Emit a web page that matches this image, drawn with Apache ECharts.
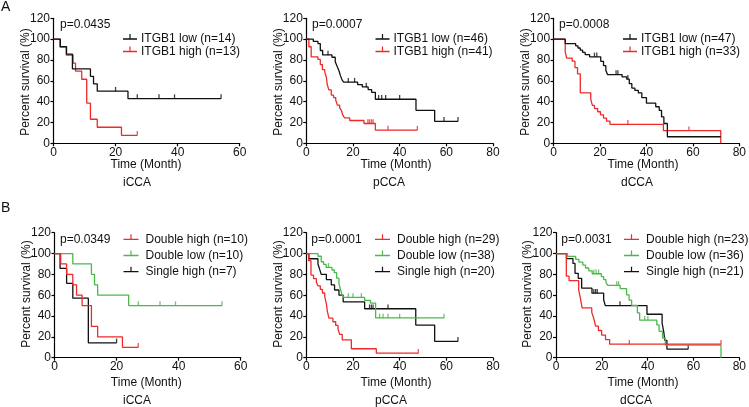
<!DOCTYPE html>
<html><head><meta charset="utf-8">
<script src="https://cdn.jsdelivr.net/npm/echarts@6/dist/echarts.min.js"></script>
<style>html,body{margin:0;padding:0;background:#fff}#c{width:749px;height:407px}</style>
</head><body><div id="c"></div>
<script>
// ================= DATA =================
const pValues = ['p=0.0435', 'p=0.0007', 'p=0.0008', 'p=0.0349', 'p=0.0001', 'p=0.0031'];
const cohorts = ['iCCA', 'pCCA', 'dCCA', 'iCCA', 'pCCA', 'dCCA'];
const xMax = [60, 80, 80, 60, 80, 80];
const yMax = 120;
const xTitle = 'Time (Month)';
const yTitle = 'Percent survival (%)';

// Panel A — iCCA
const iccaLow = [[0,100],[2.2,92.9],[4.2,85.7],[6.1,71.4],[11.9,64.3],[12.9,57.1],[14.1,50],[24,42.9],[54,42.9]];
const iccaLowCens = [[20,50],[27,42.9],[34,42.9],[39,42.9],[54,42.9]];
const iccaHigh = [[0,100],[2.1,92.3],[4.1,84.6],[6.3,76.9],[7.1,69.2],[9.1,61.5],[10.7,38.5],[11.9,23.1],[14.1,15.4],[21.9,7.7],[27,7.7]];
const iccaHighCens = [[27,7.7]];
// Panel A — pCCA
const pccaLow = [[0,100],[3,97.8],[5,95.7],[6,89.1],[7,84.8],[11,82.6],[12.4,78.3],[13.2,73.9],[14,69.6],[14.6,65.2],[15.3,60.9],[16,58.7],[22,56.4],[24,54.1],[26.5,51.6],[28,48.9],[29.6,42.3],[47,31.7],[55,21.1],[65,21.1]];
const pccaLowCens = [[9.3,84.8],[18,58.7],[20.7,58.7],[25.7,54.1],[31,42.3],[32.3,42.3],[34,42.3],[40,42.3],[59,21.1],[65,21.1]];
const pccaHigh = [[0,100],[1.1,92.7],[2.1,82.9],[5,80.5],[6,75.6],[6.9,70.7],[7.9,68.3],[8.6,63.4],[9,56.1],[9.7,51.2],[10.7,46.3],[11.7,43.9],[12.6,41.5],[13.3,36.6],[14.3,34.1],[15,31.7],[15.7,26.8],[16.4,24.4],[18.6,21.9],[24.7,19],[29.6,12.7],[47.6,12.7]];
const pccaHighCens = [[26.4,19],[27.1,19],[27.9,19],[28.6,19],[35,12.7],[47.6,12.7]];
// Panel A — dCCA
const dccaLow = [[0,100],[5,95.7],[9.5,93.6],[10.5,91.5],[11.5,89.4],[12.5,87.2],[13.6,85.1],[15.5,83],[20.3,78.7],[21.5,74.5],[22.5,70.2],[23.2,66],[29.5,63.8],[31.5,61.6],[32.6,57.2],[33.7,53],[35,50.8],[36.5,48.4],[38,43.8],[40,38.5],[44,35.1],[45.5,31.6],[46.5,25.3],[47.5,19],[49,6.3],[72,6.3]];
const dccaLowCens = [[17.6,83],[18.6,83],[26.9,66],[27.7,66],[32,61.6]];
const dccaHigh = [[0,100],[5,87.9],[5.6,81.8],[8,78.8],[9.2,72.7],[10.3,66.7],[11.5,48.5],[16,42.4],[16.7,36.4],[17.6,33.3],[19,30.3],[20.2,27.3],[21.5,24.2],[22.8,21.2],[24.3,18.2],[47.3,12.1],[72,0]];
const dccaHighCens = [[32,18.2],[58.3,12.1]];

// Panel B — iCCA
const iccaDH = [[0,100],[2,90],[3.9,80],[5.9,70],[7.1,60],[8.9,50],[11.9,30],[13.9,20],[21.9,10],[27,10]];
const iccaDHCens = [[27,10]];
const iccaDL = [[0,100],[5.9,90],[11.9,80],[12.9,70],[13.9,60],[23.9,50],[54,50]];
const iccaDLCens = [[27,50],[34,50],[39,50],[54,50]];
const iccaSH = [[0,100],[1.8,85.7],[3.9,71.4],[5.9,57.1],[10.9,14.3],[20,14.3]];
const iccaSHCens = [[20,14.3]];
// Panel B — pCCA
const pccaDH = [[0,100],[1,93.1],[2,79.3],[3.1,75.9],[4.3,72.4],[5,69],[6,65.5],[6.9,62.1],[7.9,58.6],[8.6,51.7],[9,44.8],[9.7,37.9],[11.4,34.5],[12.6,31],[13.6,27.6],[14.3,22.4],[15.4,17.2],[19.3,8.6],[30,4.3],[48,4.3]];
const pccaDHCens = [[48,4.3]];
const pccaDL = [[0,100],[5,97.4],[6.4,92.1],[7.4,89.5],[8.5,86.8],[11,84.2],[12,81.6],[13,76.3],[14,71.1],[14.6,65.8],[15.3,60.5],[16,57.9],[25,55.1],[27.5,52.4],[29.7,38.2],[59,38.2]];
const pccaDLCens = [[9.5,86.8],[18,57.9],[20,57.9],[23.6,57.9],[31.4,38.2],[32.9,38.2],[35,38.2],[40,38.2],[59,38.2]];
const pccaSH = [[0,100],[1.1,95],[5,90],[5.7,85],[6.4,80],[8.6,75],[10.7,70],[12.1,65],[14,60],[15.8,53.5],[25,47],[46.9,31.3],[55,15.7],[65,15.7]];
const pccaSHCens = [[27.1,47],[27.9,47],[28.6,47],[35,47],[65,15.7]];
// Panel B — dCCA
const dccaDH = [[0,100],[4.5,78.3],[5.7,73.9],[9.9,65.2],[10.7,56.5],[11.4,47.8],[15.6,43.5],[16.3,39.1],[16.8,34.8],[17.3,30.4],[18.5,26.1],[19.9,21.7],[21.6,17.4],[23.4,13],[72,13]];
const dccaDHCens = [[32,13],[72,13]];
const dccaDL = [[0,100],[5,97.2],[8.6,94.4],[10,91.7],[11.7,88.9],[12.9,86.1],[14.3,83.3],[15.8,80.6],[19.8,77.8],[20.8,75],[21.8,72.2],[22.6,69.4],[28,66.4],[30.8,60.4],[31.9,55.3],[33,50.3],[35.5,43.1],[36.5,36],[44,31.5],[45,25.2],[46.5,18.9],[47.7,12.1],[72,0]];
const dccaDLCens = [[16.5,80.6],[17.5,80.6],[18.6,80.6],[26.5,69.4],[27.3,69.4],[38.7,36],[40.1,36]];
const dccaSH = [[0,100],[4.6,95.2],[7.4,90.5],[8.3,81],[9.7,76.2],[11.2,66.7],[15.7,61.9],[20.8,55.6],[21.5,50],[39.7,41.7],[46.3,33.3],[47,25],[47.5,16.7],[48.4,8.3],[57.7,8.3]];
const dccaSHCens = [[16.5,61.9],[17.3,61.9],[18,61.9],[27.9,50],[57.7,8.3]];

// ================= STYLE / LAYOUT =================
const FONT = '"Liberation Sans", Arial, sans-serif';
const RED = '#ee2a2a', BLACK = '#111111', GREEN = '#4cb84a';
const TXT = '#111';

// panel curves: [name, color, curve, censored]
const panels = [
  [['ITGB1 low (n=14)', BLACK, iccaLow, iccaLowCens], ['ITGB1 high (n=13)', RED, iccaHigh, iccaHighCens]],
  [['ITGB1 low (n=46)', BLACK, pccaLow, pccaLowCens], ['ITGB1 high (n=41)', RED, pccaHigh, pccaHighCens]],
  [['ITGB1 low (n=47)', BLACK, dccaLow, dccaLowCens], ['ITGB1 high (n=33)', RED, dccaHigh, dccaHighCens]],
  [['Double high (n=10)', RED, iccaDH, iccaDHCens], ['Double low (n=10)', GREEN, iccaDL, iccaDLCens], ['Single high (n=7)', BLACK, iccaSH, iccaSHCens]],
  [['Double high (n=29)', RED, pccaDH, pccaDHCens], ['Double low (n=38)', GREEN, pccaDL, pccaDLCens], ['Single high (n=20)', BLACK, pccaSH, pccaSHCens]],
  [['Double high (n=23)', RED, dccaDH, dccaDHCens], ['Double low (n=36)', GREEN, dccaDL, dccaDLCens], ['Single high (n=21)', BLACK, dccaSH, dccaSHCens]]
];

const gridPos = [
  {left: 53.5, top: 18.3, width: 186.2, height: 125},
  {left: 306.3, top: 18.3, width: 186.7, height: 125},
  {left: 553.6, top: 18.3, width: 187, height: 125},
  {left: 54.5, top: 232.7, width: 186.2, height: 125},
  {left: 306.3, top: 232.7, width: 186.7, height: 125},
  {left: 556, top: 232.7, width: 186, height: 125}
];
const legendPos = [
  {left: 123, top: 33, gap: 0.5, w: 14},
  {left: 375.5, top: 33, gap: 0.5, w: 14},
  {left: 623, top: 33, gap: 0.5, w: 14},
  {left: 123.5, top: 233.3, gap: 4.2, w: 15},
  {left: 375, top: 233.3, gap: 4.2, w: 15},
  {left: 624, top: 233.3, gap: 4.2, w: 15}
];
const pPos = [[60, 25], [312, 25], [559, 25], [60, 239.3], [311.3, 239.3], [561.3, 239.3]];
const timePos = [[146, 165], [396, 165], [643, 165], [146.3, 382.7], [396, 382.7], [643, 382.7]];
const cohortPos = [[137, 183], [389, 183], [637, 183], [137, 400.5], [391, 400.5], [636, 400.5]];
const yTitlePos = [[25.3, 82], [278.3, 82], [525.3, 82], [26.5, 294], [278.3, 294], [527.5, 294]];

const axisLineStyle = {color: '#000', width: 1.2};
const labelStyle = {color: TXT, fontSize: 12, fontFamily: FONT};

const grid = [], xAxis = [], yAxis = [], series = [], legend = [], graphic = [];

function legendIcon(w) {
  return 'path://M0,4.4L' + w + ',4.4L' + w + ',5.6L0,5.6Z M' + (w/2-0.6) + ',0.5L' + (w/2+0.6) + ',0.5L' + (w/2+0.6) + ',5L' + (w/2-0.6) + ',5Z M' + (w/2-0.05) + ',9.45L' + (w/2+0.05) + ',9.45L' + (w/2+0.05) + ',9.5L' + (w/2-0.05) + ',9.5Z';
}

panels.forEach((curves, i) => {
  grid.push(Object.assign({containLabel: false}, gridPos[i]));
  xAxis.push({
    type: 'value', gridIndex: i, min: 0, max: xMax[i], interval: 20,
    axisLine: {show: true, onZero: false, lineStyle: axisLineStyle},
    axisTick: {show: true, length: 3, lineStyle: axisLineStyle},
    axisLabel: Object.assign({margin: 3}, labelStyle),
    splitLine: {show: false}
  });
  yAxis.push({
    type: 'value', gridIndex: i, min: 0, max: yMax, interval: 20,
    axisLine: {show: true, onZero: false, lineStyle: axisLineStyle},
    axisTick: {show: true, length: 3, lineStyle: axisLineStyle},
    axisLabel: Object.assign({margin: 3.5}, labelStyle),
    splitLine: {show: false}
  });
  const lp = legendPos[i];
  legend.push({
    orient: 'vertical', left: lp.left, top: lp.top, itemGap: lp.gap,
    itemWidth: lp.w, itemHeight: 10, symbolKeepAspect: false, selectedMode: false,
    padding: 0,
    textStyle: {color: TXT, fontSize: 12, fontFamily: FONT, lineHeight: 12, padding: [0, 0, 0, lp.w === 15 ? 2 : -1]},
    data: curves.map(c => ({name: c[0], icon: legendIcon(lp.w), itemStyle: {color: c[1]}}))
  });
  curves.slice().reverse().forEach(c => {
    series.push({
      type: 'line', name: c[0], xAxisIndex: i, yAxisIndex: i, data: c[2],
      step: 'end', showSymbol: false, symbol: 'none', animation: false, silent: true,
      lineStyle: {color: c[1], width: 1.3}, itemStyle: {color: c[1]}
    });
    series.push({
      type: 'scatter', name: c[0], xAxisIndex: i, yAxisIndex: i, data: c[3],
      symbol: 'rect', symbolSize: [1.3, 4.5], symbolOffset: [0, -2], animation: false, silent: true,
      itemStyle: {color: c[1]}
    });
  });
  graphic.push({type: 'text', x: pPos[i][0], y: pPos[i][1], style: {text: pValues[i], fill: TXT, font: '12px ' + FONT, align: 'left', verticalAlign: 'middle'}});
  graphic.push({type: 'text', x: timePos[i][0], y: timePos[i][1], style: {text: xTitle, fill: TXT, font: '12px ' + FONT, align: 'center', verticalAlign: 'middle'}});
  graphic.push({type: 'text', x: cohortPos[i][0], y: cohortPos[i][1], style: {text: cohorts[i], fill: TXT, font: '12px ' + FONT, align: 'center', verticalAlign: 'middle'}});
  graphic.push({type: 'text', x: yTitlePos[i][0], y: yTitlePos[i][1], rotation: Math.PI / 2, style: {text: yTitle, fill: TXT, font: '12px ' + FONT, align: 'center', verticalAlign: 'middle'}});
});
graphic.push({type: 'text', x: 1, y: 0.5, style: {text: 'A', fill: TXT, font: '14px ' + FONT, align: 'left', verticalAlign: 'top'}});
graphic.push({type: 'text', x: 1, y: 201, style: {text: 'B', fill: TXT, font: '14px ' + FONT, align: 'left', verticalAlign: 'top'}});

const chart = echarts.init(document.getElementById('c'), null, {renderer: 'canvas'});
chart.setOption({
  backgroundColor: '#fff',
  animation: false,
  grid, xAxis, yAxis, series, legend, graphic
});
</script>
</body></html>
